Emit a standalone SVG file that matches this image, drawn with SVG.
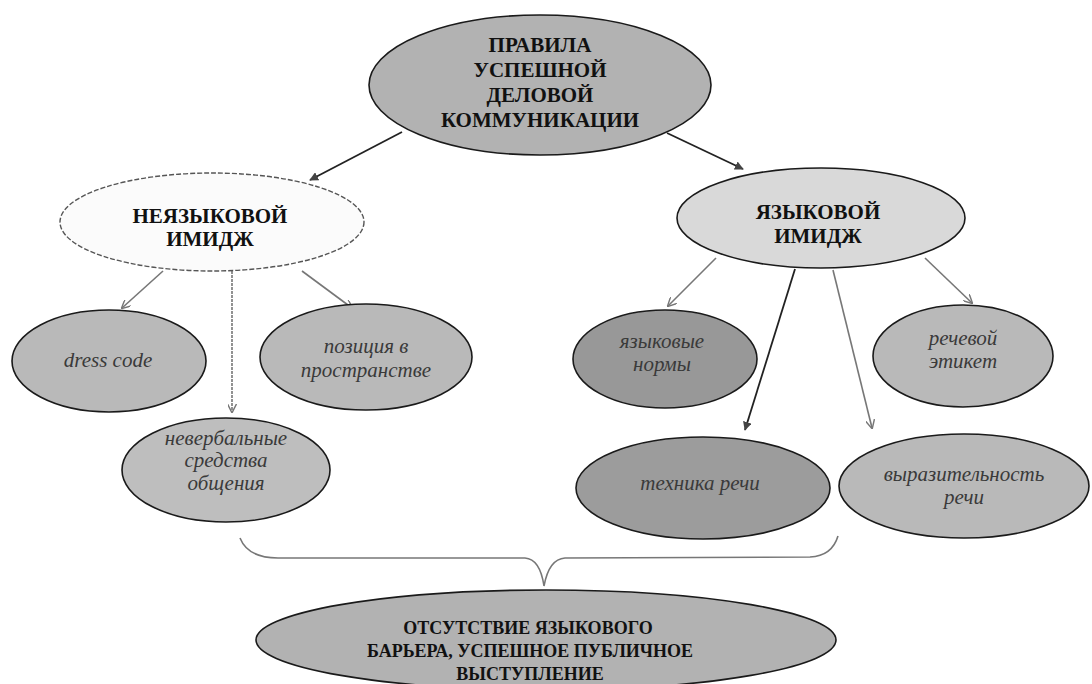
<svg xmlns="http://www.w3.org/2000/svg" width="1092" height="684" viewBox="0 0 1092 684">
<style>
.bg{fill:#ffffff}
.node{stroke:#1a1a1a;stroke-width:1.6}
.hdr{font-family:"Liberation Serif","Times New Roman",serif;font-weight:bold;font-size:21px;fill:#111;text-anchor:middle}
.res{font-family:"Liberation Serif","Times New Roman",serif;font-weight:bold;font-size:18px;fill:#111;text-anchor:middle}
.leaf{font-family:"Liberation Serif","Times New Roman",serif;font-style:italic;font-size:21px;fill:#3a3a3a;text-anchor:middle}
.dark{stroke:#222;stroke-width:1.8;fill:none}
.grey{stroke:#777;stroke-width:1.6;fill:none}
</style>
<defs>
<marker id="ahD" viewBox="0 0 10 10" refX="9" refY="5" markerWidth="9" markerHeight="9" markerUnits="userSpaceOnUse" orient="auto">
<path d="M0,0 L10,5 L0,10 Z" fill="#444"/>
</marker>
<marker id="ahG" viewBox="0 0 10 10" refX="9" refY="5" markerWidth="9" markerHeight="9" markerUnits="userSpaceOnUse" orient="auto">
<path d="M0,0 L10,5 L0,10" fill="none" stroke="#777" stroke-width="1.6"/>
</marker>
</defs>
<rect class="bg" x="0" y="0" width="1092" height="684"/>

<g id="connectors">
<line class="dark" x1="402" y1="132" x2="310" y2="180" marker-end="url(#ahD)"/>
<line class="dark" x1="667" y1="133" x2="743" y2="169" marker-end="url(#ahD)"/>
<line class="grey" x1="163" y1="271" x2="122" y2="308" marker-end="url(#ahG)"/>
<line class="grey" x1="232" y1="271" x2="232" y2="412" marker-end="url(#ahG)" stroke-dasharray="3 1"/>
<line class="grey" x1="302" y1="271" x2="352" y2="308" marker-end="url(#ahG)"/>
<line class="grey" x1="716" y1="258" x2="668" y2="306" marker-end="url(#ahG)"/>
<line class="dark" x1="795" y1="269" x2="745" y2="430" marker-end="url(#ahD)"/>
<line class="grey" x1="833" y1="270" x2="872" y2="428" marker-end="url(#ahG)"/>
<line class="grey" x1="925" y1="258" x2="972" y2="303" marker-end="url(#ahG)"/>
<path class="grey" d="M240,538 Q248,558 278,558 L525,558 Q540,559 544,586 Q549,559 565,558 L810,557 Q832,556 838,536" stroke="#555" stroke-width="2"/>
</g>

<g id="n-root">
<ellipse class="node" cx="540" cy="85" rx="171" ry="70" fill="#b2b2b2"/>
<text class="hdr" x="540" y="52">ПРАВИЛА</text>
<text class="hdr" x="540" y="77">УСПЕШНОЙ</text>
<text class="hdr" x="540" y="102">ДЕЛОВОЙ</text>
<text class="hdr" x="540" y="127">КОММУНИКАЦИИ</text>
</g>

<g id="n-nonverbal-image">
<ellipse cx="212" cy="222" rx="152" ry="49" fill="#fbfbfb" stroke="#555" stroke-width="1.4" stroke-dasharray="5 2"/>
<text class="hdr" x="210" y="223">НЕЯЗЫКОВОЙ</text>
<text class="hdr" x="210" y="246">ИМИДЖ</text>
</g>

<g id="n-verbal-image">
<ellipse class="node" cx="821" cy="218" rx="144" ry="50" fill="#d9d9d9" stroke-width="1.2"/>
<text class="hdr" x="818" y="219">ЯЗЫКОВОЙ</text>
<text class="hdr" x="818" y="243">ИМИДЖ</text>
</g>

<g id="n-dress">
<ellipse class="node" cx="109" cy="361" rx="97" ry="51" fill="#b9b9b9"/>
<text class="leaf" x="108" y="367">dress code</text>
</g>

<g id="n-position">
<ellipse class="node" cx="366" cy="357" rx="106" ry="53" fill="#b9b9b9"/>
<text class="leaf" x="366" y="353">позиция в</text>
<text class="leaf" x="366" y="377">пространстве</text>
</g>

<g id="n-nonverbal-means">
<ellipse class="node" cx="226" cy="470" rx="104" ry="52" fill="#bebebe"/>
<text class="leaf" x="226" y="445" font-size="18">невербальные</text>
<text class="leaf" x="226" y="467" font-size="18">средства</text>
<text class="leaf" x="226" y="490" font-size="14">общения</text>
</g>

<g id="n-norms">
<ellipse class="node" cx="665" cy="359" rx="92" ry="49" fill="#989898"/>
<text class="leaf" x="662" y="348">языковые</text>
<text class="leaf" x="662" y="371">нормы</text>
</g>

<g id="n-etiquette">
<ellipse class="node" cx="963" cy="356" rx="90" ry="51" fill="#b9b9b9"/>
<text class="leaf" x="963" y="345">речевой</text>
<text class="leaf" x="963" y="368">этикет</text>
</g>

<g id="n-technique">
<ellipse class="node" cx="703" cy="488" rx="127" ry="51" fill="#9c9c9c"/>
<text class="leaf" x="700" y="490">техника речи</text>
</g>

<g id="n-expressive">
<ellipse class="node" cx="964" cy="486" rx="125" ry="52" fill="#b9b9b9"/>
<text class="leaf" x="964" y="481">выразительность</text>
<text class="leaf" x="964" y="504">речи</text>
</g>

<g id="n-result">
<ellipse class="node" cx="546" cy="640" rx="290" ry="50" fill="#b2b2b2"/>
<text class="res" x="528" y="634">ОТСУТСТВИЕ ЯЗЫКОВОГО</text>
<text class="res" x="530" y="657">БАРЬЕРА, УСПЕШНОЕ ПУБЛИЧНОЕ</text>
<text class="res" x="530" y="680">ВЫСТУПЛЕНИЕ</text>
</g>
</svg>
